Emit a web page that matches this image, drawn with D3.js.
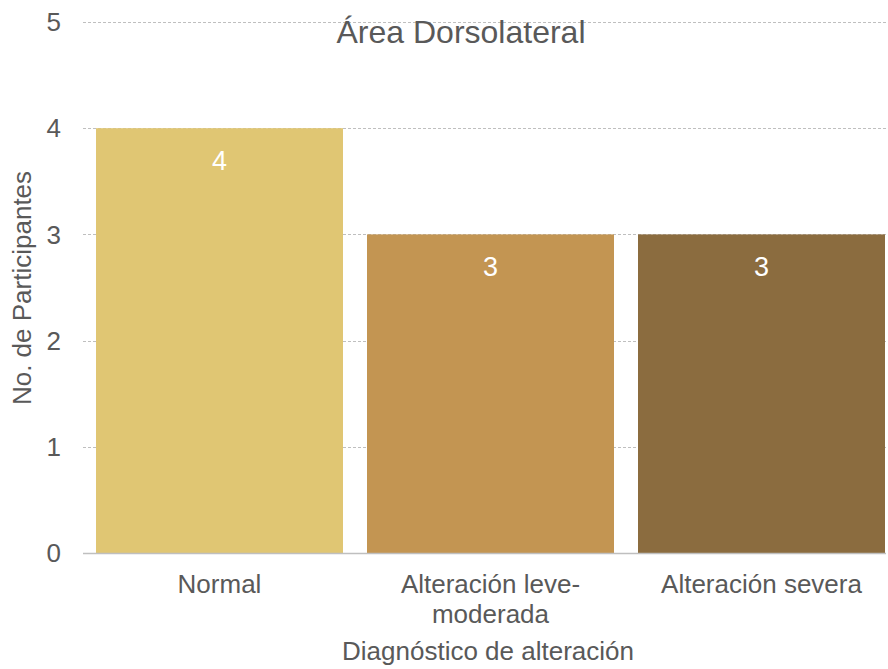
<!DOCTYPE html>
<html>
<head>
<meta charset="utf-8">
<script src="https://cdn.jsdelivr.net/npm/d3@7"></script>
<style>
  body { margin: 0; background: #fff; }
  text { font-family: "Liberation Sans", Arial, sans-serif; fill: #595959; }
</style>
</head>
<body>
<div id="chart"></div>
<script>
const categories = ["Normal", "Alteración leve-moderada", "Alteración severa"]
const categoryLines = [["Normal"], ["Alteración leve-", "moderada"], ["Alteración severa"]]
const values = [4, 3, 3]
const colors = ["#E0C673", "#C39552", "#8B6C3F"]
const yTicks = [0, 1, 2, 3, 4, 5]

const width = 888
const height = 669

const svg = d3.select("#chart")
  .append("svg")
  .attr("width", width)
  .attr("height", height)

const plotLeft = 83
const plotRight = 886

const x = d3.scaleBand()
  .domain(categories)
  .range([plotLeft, 898])
  .paddingInner(0.0886)
  .paddingOuter(0.048)

const y = d3.scaleLinear().domain([0, 5]).range([553, 22])

// gridlines
svg.append("g")
  .selectAll("line")
  .data(yTicks.filter(d => d > 0))
  .enter()
  .append("line")
  .attr("x1", plotLeft)
  .attr("x2", plotRight)
  .attr("y1", d => Math.round(y(d)) + 0.5)
  .attr("y2", d => Math.round(y(d)) + 0.5)
  .attr("stroke", "#bfbfbf")
  .attr("stroke-width", 1)
  .attr("stroke-dasharray", "3,2")

// y tick labels
svg.append("g")
  .selectAll("text")
  .data(yTicks)
  .enter()
  .append("text")
  .attr("x", 61)
  .attr("y", d => y(d))
  .attr("dy", "0.35em")
  .attr("text-anchor", "end")
  .style("font-size", "26px")
  .text(d => d)

// bars
svg.append("g")
  .selectAll("rect")
  .data(values)
  .enter()
  .append("rect")
  .attr("x", (d, i) => x(categories[i]))
  .attr("y", d => y(d))
  .attr("width", x.bandwidth())
  .attr("height", d => y(0) - y(d))
  .attr("fill", (d, i) => colors[i])

// baseline
svg.append("line")
  .attr("x1", plotLeft)
  .attr("x2", plotRight)
  .attr("y1", y(0) + 0.5)
  .attr("y2", y(0) + 0.5)
  .attr("stroke", "#bfbfbf")
  .attr("stroke-width", 1.5)

// data labels
svg.append("g")
  .selectAll("text")
  .data(values)
  .enter()
  .append("text")
  .attr("x", (d, i) => x(categories[i]) + x.bandwidth() / 2)
  .attr("y", d => y(d) + 42)
  .attr("text-anchor", "middle")
  .style("font-size", "27px")
  .style("fill", "#ffffff")
  .text(d => d)

// category labels
const catG = svg.append("g")
categoryLines.forEach((lines, i) => {
  const t = catG.append("text")
    .attr("x", x(categories[i]) + x.bandwidth() / 2)
    .attr("y", 593)
    .attr("text-anchor", "middle")
    .style("font-size", "26px")
  lines.forEach((line, j) => {
    t.append("tspan")
      .attr("x", x(categories[i]) + x.bandwidth() / 2)
      .attr("dy", j === 0 ? 0 : 30)
      .text(line)
  })
})

// title
svg.append("text")
  .attr("x", 461)
  .attr("y", 43)
  .attr("text-anchor", "middle")
  .style("font-size", "32px")
  .text("Área Dorsolateral")

// axis titles
svg.append("text")
  .attr("x", 488)
  .attr("y", 660)
  .attr("text-anchor", "middle")
  .style("font-size", "26px")
  .text("Diagnóstico de alteración")

svg.append("text")
  .attr("transform", "translate(31,288) rotate(-90)")
  .attr("text-anchor", "middle")
  .style("font-size", "26px")
  .text("No. de Participantes")
</script>
</body>
</html>
